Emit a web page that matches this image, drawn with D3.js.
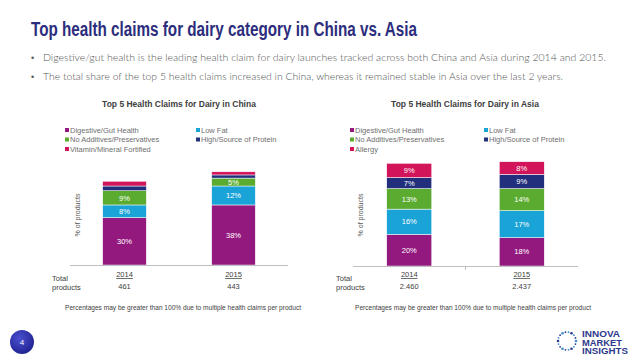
<!DOCTYPE html>
<html>
  <head>
    <meta charset="utf-8">
    <title>Top health claims for dairy</title>
    <style>
      body { margin: 0; background: #fff; }
      svg { display: block; }
    </style>
  </head>
  <body>
    <div id="container"></div>
    <script src="https://cdn.jsdelivr.net/npm/d3@7"></script>
    <script>
      // values
      var claimsChina = ["Digestive/Gut Health", "Low Fat", "No Additives/Preservatives", "High/Source of Protein", "Vitamin/Mineral Fortified"];
      var claimsAsia = ["Digestive/Gut Health", "Low Fat", "No Additives/Preservatives", "High/Source of Protein", "Allergy"];
      var years = ["2014", "2015"];
      var china2014 = [30, 8, 9, 3, 3];
      var china2015 = [38, 12, 5, 2, 2];
      var asia2014 = [20, 16, 13, 7, 9];
      var asia2015 = [18, 17, 14, 9, 8];
      var totalsChina = ["461", "443"];
      var totalsAsia = ["2.460", "2.437"];
      var colors = ["#93197f", "#1aa3d6", "#5aab2f", "#222f7d", "#d2145a"];
      var bullets = [
        "Digestive/gut health is the leading health claim for dairy launches tracked across both China and Asia during 2014 and 2015.",
        "The total share of the top 5 health claims increased in China, whereas it remained stable in Asia over the last 2 years."
      ];
      var note = "Percentages may be greater than 100% due to multiple health claims per product";

      var W = 638, H = 359;
      var svg = d3.select("#container").append("svg")
        .attr("width", W)
        .attr("height", H)
        .style("font-family", "'Liberation Sans', Arial, sans-serif");

      // header
      svg.append("text")
        .attr("x", 31).attr("y", 36)
        .attr("font-size", 20)
        .attr("font-weight", "bold")
        .attr("fill", "#2c2d7c")
        .attr("textLength", 386)
        .attr("lengthAdjust", "spacingAndGlyphs")
        .text("Top health claims for dairy category in China vs. Asia");

      var bl = [563, 520];
      bullets.forEach(function(b, i) {
        var y = 61 + i * 19;
        svg.append("text").attr("x", 31).attr("y", y)
          .attr("font-size", 9).attr("fill", "#595959").text("\u2022");
        svg.append("text").attr("x", 43).attr("y", y)
          .attr("font-size", 10)
          .style("font-family", "Lato, 'Open Sans', sans-serif")
          .attr("font-weight", 300)
          .attr("fill", "#555")
          .attr("textLength", bl[i])
          .attr("lengthAdjust", "spacingAndGlyphs")
          .text(b);
      });

      function drawChart(cfg) {
        var g = svg.append("g");
        var x = d3.scaleBand().domain(years).range(cfg.xr).paddingInner(0.6).paddingOuter(0.3);
        var y = d3.scaleLinear().domain([0, 70]).range([cfg.base, cfg.base - 70 * 1.58]);

        g.append("text")
          .attr("x", cfg.cx).attr("y", 107)
          .attr("text-anchor", "middle")
          .attr("font-size", 8.5).attr("font-weight", "bold")
          .attr("fill", "#404040")
          .text(cfg.title);

        // legend, two columns
        cfg.claims.forEach(function(c, i) {
          var lx = cfg.lx[i % 2], ly = 130 + Math.floor(i / 2) * 9.5;
          g.append("rect").attr("x", lx).attr("y", ly - 2)
            .attr("width", 4).attr("height", 4).attr("fill", colors[i]);
          g.append("text").attr("x", lx + 5).attr("y", ly + 2.6)
            .attr("font-size", 7.5).attr("fill", "#6f6f6f").text(c);
        });

        var stacked = years.map(function(yr, j) {
          var acc = 0;
          return cfg.values[j].map(function(v, i) {
            var s = { year: yr, i: i, v: v, y0: acc, y1: acc + v };
            acc += v;
            return s;
          });
        });

        stacked.forEach(function(col) {
          g.selectAll(null).data(col).enter().append("rect")
            .attr("x", function(d) { return x(d.year); })
            .attr("width", x.bandwidth())
            .attr("y", function(d) { return y(d.y1); })
            .attr("height", function(d) { return y(d.y0) - y(d.y1); })
            .attr("fill", function(d) { return colors[d.i]; })
            .attr("stroke", "#fff").attr("stroke-width", 0.5);

          g.selectAll(null).data(col.filter(function(d) { return d.v >= 5; })).enter().append("text")
            .attr("x", function(d) { return x(d.year) + x.bandwidth() / 2; })
            .attr("y", function(d) { return (y(d.y0) + y(d.y1)) / 2 + 2.7; })
            .attr("text-anchor", "middle")
            .attr("font-size", 7.5).attr("fill", "#fff")
            .text(function(d) { return d.v + "%"; });
        });

        // axis line
        g.append("line")
          .attr("x1", cfg.xr[0]).attr("x2", cfg.xr[1])
          .attr("y1", cfg.base + 0.5).attr("y2", cfg.base + 0.5)
          .attr("stroke", "#bfbfbf").attr("stroke-width", 1);
        if (cfg.tick) {
          var mid = (cfg.xr[0] + cfg.xr[1]) / 2;
          g.append("line").attr("x1", mid).attr("x2", mid)
            .attr("y1", cfg.base).attr("y2", cfg.base + 4)
            .attr("stroke", "#bfbfbf");
        }

        g.append("text")
          .attr("transform", "translate(" + cfg.ylx + ",215) rotate(-90)")
          .attr("text-anchor", "middle")
          .attr("font-size", 7).attr("fill", "#595959")
          .text("% of products");

        years.forEach(function(yr, j) {
          var cx = x(yr) + x.bandwidth() / 2;
          g.append("text").attr("x", cx).attr("y", 277)
            .attr("text-anchor", "middle").attr("font-size", 7.5)
            .attr("fill", "#404040").attr("text-decoration", "underline")
            .text(yr);
          g.append("text").attr("x", cx).attr("y", 289)
            .attr("text-anchor", "middle").attr("font-size", 7.5)
            .attr("fill", "#404040").text(cfg.totals[j]);
        });
        g.append("text").attr("x", cfg.tx).attr("y", 281)
          .attr("font-size", 7.5).attr("fill", "#404040").text("Total");
        g.append("text").attr("x", cfg.tx).attr("y", 290)
          .attr("font-size", 7.5).attr("fill", "#404040").text("products");

        g.append("text").attr("x", cfg.nx).attr("y", 310)
          .attr("text-anchor", "middle").attr("font-size", 6.5)
          .attr("fill", "#404040")
          .attr("textLength", 236).attr("lengthAdjust", "spacingAndGlyphs")
          .text(note);
      }

      drawChart({ title: "Top 5 Health Claims for Dairy in China", claims: claimsChina,
        values: [china2014, china2015], totals: totalsChina,
        xr: [70, 288], base: 265, cx: 179, lx: [65, 196], ylx: 80, tx: 52, nx: 183, tick: false });
      drawChart({ title: "Top 5 Health Claims for Dairy in Asia", claims: claimsAsia,
        values: [asia2014, asia2015], totals: totalsAsia,
        xr: [353, 578], base: 266, cx: 465, lx: [350, 484], ylx: 363, tx: 336, nx: 473, tick: true });

      // page number badge
      var grad = svg.append("defs").append("radialGradient").attr("id", "badge")
        .attr("cx", "40%").attr("cy", "35%").attr("r", "70%");
      grad.append("stop").attr("offset", "0%").attr("stop-color", "#4a4fd0");
      grad.append("stop").attr("offset", "100%").attr("stop-color", "#1f2290");
      svg.append("circle").attr("cx", 22).attr("cy", 342).attr("r", 12).attr("fill", "url(#badge)");
      svg.append("text").attr("x", 22).attr("y", 345).attr("text-anchor", "middle")
        .attr("font-size", 8).attr("fill", "#fff").text("4");

      // logo: dotted ring + wordmark
      var ring = d3.range(18);
      svg.selectAll(null).data(ring).enter().append("circle")
        .attr("cx", function(d) { return 567 + 9 * Math.cos(d / 18 * 2 * Math.PI); })
        .attr("cy", function(d) { return 341 + 9 * Math.sin(d / 18 * 2 * Math.PI); })
        .attr("r", function(d) { return d % 3 === 0 ? 1.3 : 0.9; })
        .attr("fill", function(d) { return d % 2 ? "#2e3a8c" : "#3b8fd0"; });
      var logoLen = [38, 40, 46];
      ["INNOVA", "MARKET", "INSIGHTS"].forEach(function(t, i) {
        svg.append("text").attr("x", 582).attr("y", 337 + i * 8.5)
          .attr("font-size", 8.5).attr("font-weight", "bold")
          .attr("fill", "#2e3a8c")
          .attr("textLength", logoLen[i]).attr("lengthAdjust", "spacingAndGlyphs")
          .text(t);
      });
    </script>
  </body>
</html>
